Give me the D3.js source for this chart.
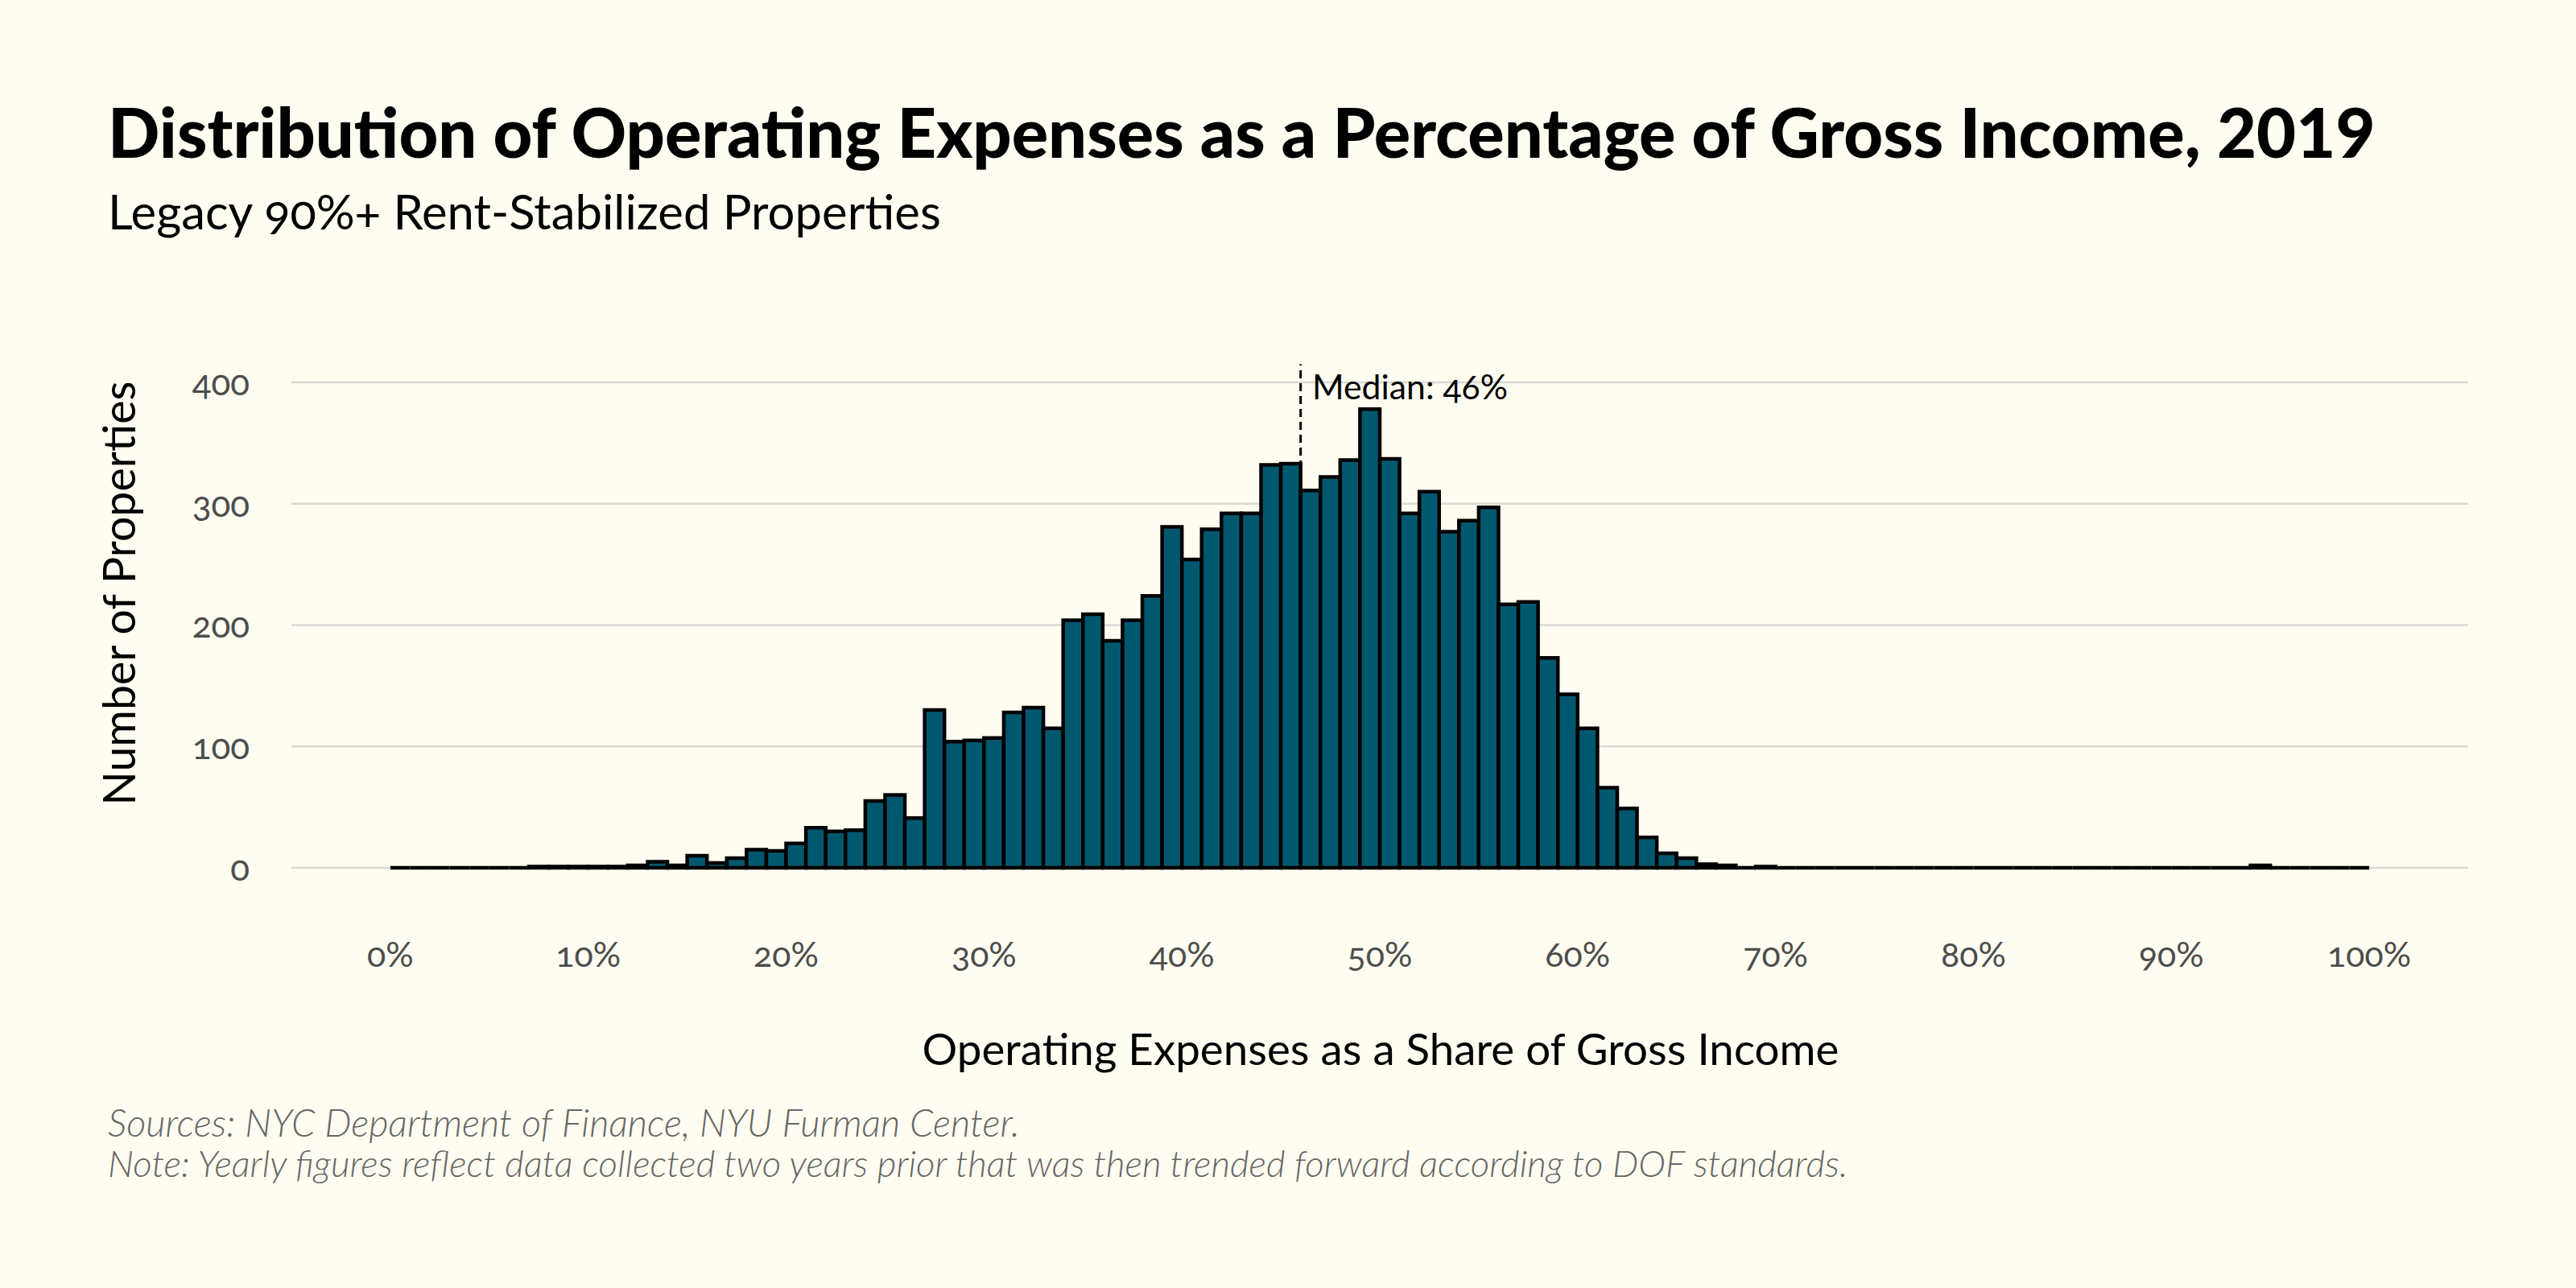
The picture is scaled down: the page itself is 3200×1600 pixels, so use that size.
<!DOCTYPE html>
<html>
<head>
<meta charset="utf-8">
<script src="https://cdn.jsdelivr.net/npm/d3@7"></script>
<style>
  body { margin: 0; background: #fffdf1; }
  svg { display: block; }
  text { font-family: Lato, "Open Sans", sans-serif; }
</style>
</head>
<body>
<script>
// histogram bins: lower edge of each 1% bin
const binStarts = d3.range(0, 100);
const counts = [
  0, 0, 0, 0, 0, 0, 0, 1, 1, 1,
  1, 1, 2, 5, 2, 10, 4, 8, 15, 14,
  20, 33, 30, 31, 55, 60, 41, 130, 104, 105,
  107, 128, 132, 115, 204, 209, 187, 204, 224, 281,
  254, 279, 292, 292, 332, 333, 311, 322, 336, 378,
  337, 292, 310, 277, 286, 297, 217, 219, 173, 143,
  115, 66, 49, 25, 12, 8, 3, 2, 0, 1,
  0, 0, 0, 0, 0, 0, 0, 0, 0, 0,
  0, 0, 0, 0, 0, 0, 0, 0, 0, 0,
  0, 0, 0, 0, 2, 0, 0, 0, 0, 0
];
const yTicks = [0, 100, 200, 300, 400];
const xTicks = [0, 10, 20, 30, 40, 50, 60, 70, 80, 90, 100];
const median = 46;
const medianTop = 415;

const title = "Distribution of Operating Expenses as a Percentage of Gross Income, 2019";
const subtitle = "Legacy 90%+ Rent-Stabilized Properties";
const xTitle = "Operating Expenses as a Share of Gross Income";
const yTitle = "Number of Properties";
const captions = [
  "Sources: NYC Department of Finance, NYU Furman Center.",
  "Note: Yearly figures reflect data collected two years prior that was then trended forward according to DOF standards."
];

const W = 3200, H = 1600;
const svg = d3.select("body").append("svg").attr("width", W).attr("height", H);

const x = d3.scaleLinear().domain([-5, 105]).range([362, 3066]);
const y = d3.scaleLinear().domain([0, 400]).range([1078, 475]);

// scale font size so the text spans the wanted width
function fit(sel, target) {
  const w = sel.node().getComputedTextLength();
  const fs = parseFloat(sel.attr("font-size"));
  sel.attr("font-size", fs * target / w);
  return sel;
}

// gridlines
svg.append("g").selectAll("line")
  .data(yTicks)
  .join("line")
  .attr("x1", x(-5)).attr("x2", x(105))
  .attr("y1", d => y(d)).attr("y2", d => y(d))
  .attr("stroke", "#d9d9d6").attr("stroke-width", 2.5);

// y tick labels
svg.append("g").selectAll("text")
  .data(yTicks)
  .join("text")
  .attr("x", 310).attr("y", d => y(d))
  .attr("dy", "0.36em")
  .attr("text-anchor", "end")
  .attr("font-size", 44)
  .attr("fill", "#4d4d4d")
  .style("font-variant-numeric", "oldstyle-nums")
  .text(d => d);

// x tick labels
svg.append("g").selectAll("text")
  .data(xTicks)
  .join("text")
  .attr("x", d => x(d)).attr("y", 1201)
  .attr("text-anchor", "middle")
  .attr("font-size", 43)
  .attr("fill", "#4d4d4d")
  .style("font-variant-numeric", "oldstyle-nums")
  .text(d => d + "%");

// median line
svg.append("line")
  .attr("x1", x(median)).attr("x2", x(median))
  .attr("y1", y(0)).attr("y2", y(medianTop))
  .attr("stroke", "#000").attr("stroke-width", 3)
  .attr("stroke-dasharray", "10,6");

// bars as closed paths so empty bins still show their outline
svg.append("g").selectAll("path")
  .data(binStarts.map((b, i) => ({ b, c: counts[i] })))
  .join("path")
  .attr("d", d => {
    const x0 = x(d.b), x1 = x(d.b + 1), y0 = y(0), y1 = y(d.c);
    return `M${x0},${y0}V${y1}H${x1}V${y0}Z`;
  })
  .attr("fill", "#00586f")
  .attr("stroke", "#000")
  .attr("stroke-width", 4.5)
  .attr("stroke-linejoin", "miter");

// median label
fit(svg.append("text")
  .attr("x", 1630).attr("y", 496)
  .attr("font-size", 37)
  .attr("fill", "#000")
  .style("font-variant-numeric", "oldstyle-nums")
  .text("Median: " + median + "%"), 243);

// titles
fit(svg.append("text")
  .attr("x", 134).attr("y", 196)
  .attr("font-size", 76).attr("font-weight", 900)
  .attr("fill", "#000")
  .text(title), 2817);

fit(svg.append("text")
  .attr("x", 134).attr("y", 285)
  .attr("font-size", 50)
  .attr("fill", "#000")
  .style("font-variant-numeric", "oldstyle-nums")
  .text(subtitle), 1035);

// axis titles
fit(svg.append("text")
  .attr("x", 1715).attr("y", 1323)
  .attr("text-anchor", "middle")
  .attr("font-size", 48)
  .attr("fill", "#000")
  .text(xTitle), 1139);

fit(svg.append("text")
  .attr("transform", "translate(168,737) rotate(-90)")
  .attr("text-anchor", "middle")
  .attr("font-size", 48)
  .attr("fill", "#000")
  .text(yTitle), 527);

// caption
svg.append("g").selectAll("text")
  .data(captions)
  .join("text")
  .attr("x", 134).attr("y", (d, i) => 1412 + i * 50)
  .attr("font-size", 38)
  .attr("font-style", "italic")
  .attr("font-weight", 300)
  .attr("fill", "#666")
  .text(d => d)
  .each(function (d, i) { fit(d3.select(this), i === 0 ? 1133 : 2162); });
</script>
</body>
</html>
